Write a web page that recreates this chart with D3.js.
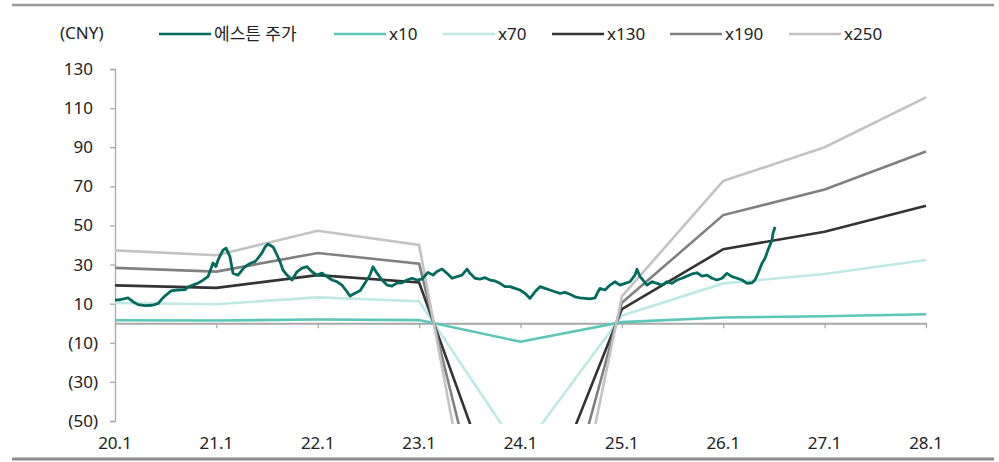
<!DOCTYPE html>
<html>
<head>
<meta charset="utf-8">
<script src="https://cdn.jsdelivr.net/npm/d3@7"></script>
<style>
  html, body { margin: 0; padding: 0; background: #fff; }
  svg { display: block; font-family: "Noto Sans", "Noto Sans CJK KR", sans-serif; }
</style>
</head>
<body>
<svg id="chart" width="999" height="462"></svg>
<script>
// ---- data ----------------------------------------------------------------
const yearTicks = [2020, 2021, 2022, 2023, 2024, 2025, 2026, 2027, 2028];
const yearLabels = ["20.1", "21.1", "22.1", "23.1", "24.1", "25.1", "26.1", "27.1", "28.1"];
const yTicks = [-50, -30, -10, 10, 30, 50, 70, 90, 110, 130];

// 12M forward EPS (CNY) at the start of each year
const epsYears = [2020, 2021, 2022, 2023, 2024, 2025, 2026, 2027, 2028];
const epsValues = [0.149, 0.139, 0.189, 0.160, -0.946, 0.055, 0.291, 0.360, 0.462];

// PER multiples for the band
const multiples = [10, 70, 130, 190, 250];
const bandColors = ["#5cc6b7", "#bfe9e3", "#333333", "#808080", "#c3c3c3"];

// share price (CNY), dates as decimal years
const priceTimes = [
  2020.000, 2020.049, 2020.128, 2020.178, 2020.227, 2020.296, 2020.365, 2020.424, 2020.464, 2020.503,
  2020.552, 2020.621, 2020.691, 2020.720, 2020.769, 2020.819, 2020.868, 2020.917, 2020.967, 2020.996,
  2021.016, 2021.065, 2021.095, 2021.134, 2021.164, 2021.213, 2021.282, 2021.341, 2021.381, 2021.411,
  2021.450, 2021.480, 2021.509, 2021.559, 2021.598, 2021.628, 2021.657, 2021.697, 2021.746, 2021.795,
  2021.845, 2021.894, 2021.943, 2021.993, 2022.042, 2022.091, 2022.141, 2022.190, 2022.239, 2022.289,
  2022.318, 2022.367, 2022.417, 2022.466, 2022.515, 2022.545, 2022.584, 2022.634, 2022.683, 2022.732,
  2022.782, 2022.831, 2022.880, 2022.930, 2022.979, 2023.028, 2023.088, 2023.137, 2023.176, 2023.226,
  2023.275, 2023.324, 2023.374, 2023.423, 2023.472, 2023.502, 2023.551, 2023.600, 2023.650, 2023.699,
  2023.748, 2023.798, 2023.847, 2023.896, 2023.946, 2023.995, 2024.044, 2024.094, 2024.143, 2024.192,
  2024.242, 2024.291, 2024.340, 2024.390, 2024.439, 2024.488, 2024.538, 2024.587, 2024.636, 2024.686,
  2024.735, 2024.765, 2024.784, 2024.834, 2024.883, 2024.932, 2024.982, 2025.031, 2025.080, 2025.129,
  2025.149, 2025.179, 2025.208, 2025.248, 2025.297, 2025.346, 2025.396, 2025.445, 2025.494, 2025.544,
  2025.593, 2025.642, 2025.692, 2025.741, 2025.790, 2025.840, 2025.889, 2025.938, 2025.988, 2026.037,
  2026.086, 2026.136, 2026.185, 2026.234, 2026.284, 2026.313, 2026.343, 2026.382, 2026.412, 2026.441,
  2026.481, 2026.491, 2026.511
];
const priceValues = [
  11.8, 12.0, 13.0, 11.0, 9.5, 9.0, 9.2, 10.0, 12.5, 14.4,
  16.5, 17.0, 17.2, 18.5, 19.5, 20.5, 22.0, 23.8, 30.8, 29.0,
  32.3, 37.4, 38.4, 34.0, 25.6, 24.6, 28.9, 30.8, 31.5, 33.3,
  36.0, 39.0, 40.5, 39.0, 34.9, 31.5, 27.2, 24.6, 22.1, 26.3,
  28.2, 28.9, 26.3, 24.6, 25.6, 23.8, 22.1, 21.2, 19.5, 16.1,
  13.9, 15.3, 16.6, 20.5, 24.6, 28.9, 25.6, 22.1, 19.5, 19.0,
  20.5, 20.7, 22.1, 23.0, 22.1, 22.6, 26.0, 24.6, 26.5, 27.7,
  25.5, 23.0, 23.8, 24.6, 27.7, 25.5, 23.0, 22.6, 23.3, 22.1,
  21.6, 20.4, 18.7, 18.7, 17.8, 17.0, 15.3, 12.7, 16.1, 18.7,
  17.8, 17.0, 16.1, 15.3, 15.8, 14.8, 13.5, 13.0, 12.7, 12.4,
  13.0, 16.1, 17.8, 17.0, 19.5, 21.2, 19.5, 20.4, 21.2, 24.6,
  27.6, 23.8, 22.1, 19.5, 21.2, 20.4, 19.5, 21.2, 20.4, 22.1,
  23.0, 24.1, 25.2, 25.8, 24.1, 24.6, 23.0, 22.1, 23.0, 25.5,
  23.8, 23.0, 22.1, 20.4, 20.7, 22.1, 25.5, 30.6, 33.2, 37.4,
  42.5, 46.0, 49.3
];

const priceName = "에스튼 주가";
const unitLabel = "(CNY)";
const priceColor = "#006b5d";

// ---- layout ----------------------------------------------------------------
const svg = d3.select("#chart");
const axisColor = "#a9a9a9";

const x = d3.scaleLinear().domain([2020, 2028]).range([115, 926]);
const y = d3.scaleLinear().domain([-50, 130]).range([421, 69]);

// frame rules
svg.append("line").attr("x1", 12).attr("x2", 994).attr("y1", 5).attr("y2", 5)
  .attr("stroke", "#999").attr("stroke-width", 2.5);
svg.append("line").attr("x1", 12).attr("x2", 994).attr("y1", 459).attr("y2", 459)
  .attr("stroke", "#8c8c8c").attr("stroke-width", 3);

// y axis
const fmtY = v => v < 0 ? `(${Math.abs(v)})` : `${v}`;
const yAxis = svg.append("g").attr("transform", "translate(115,0)")
  .call(d3.axisLeft(y).tickValues(yTicks).tickSize(5).tickSizeOuter(5).tickFormat(fmtY));
yAxis.selectAll("path, line").attr("stroke", axisColor).attr("stroke-width", 1.3);
yAxis.selectAll("text")
  .attr("x", d => d < 0 ? -17 : -22)
  .attr("font-size", 17).attr("fill", "#222")
  .attr("font-family", "\"Noto Sans\", sans-serif");

// x axis on the zero line
const xAxis = svg.append("g").attr("transform", `translate(0,${y(0)})`)
  .call(d3.axisBottom(x).tickValues(yearTicks).tickSize(5).tickSizeOuter(0).tickFormat(""));
xAxis.selectAll("path, line").attr("stroke", axisColor).attr("stroke-width", 2);
xAxis.selectAll(".tick line").attr("stroke-width", 1.3);

svg.append("g").selectAll("text").data(yearTicks).join("text")
  .attr("x", d => x(d)).attr("y", 449)
  .attr("text-anchor", "middle").attr("font-size", 17).attr("fill", "#222")
  .text((d, i) => yearLabels[i]);

// clip for band lines dropping below the axis range
svg.append("clipPath").attr("id", "plotClip")
  .append("rect").attr("x", 110).attr("y", 40).attr("width", 830).attr("height", 384);

const line = d3.line().x(d => x(d[0])).y(d => y(d[1]));

// PER band lines
const bands = svg.append("g").attr("clip-path", "url(#plotClip)");
multiples.forEach((m, i) => {
  const pts = epsYears.map((yr, j) => [yr, epsValues[j] * m]);
  bands.append("path").datum(pts)
    .attr("d", line).attr("fill", "none")
    .attr("stroke", bandColors[i]).attr("stroke-width", 2.6)
    .attr("stroke-linejoin", "miter");
});

// share price
const pricePts = priceTimes.map((t, i) => [t, priceValues[i]]);
svg.append("path").datum(pricePts)
  .attr("d", line).attr("fill", "none")
  .attr("stroke", priceColor).attr("stroke-width", 2.8)
  .attr("stroke-linejoin", "round");

// legend
svg.append("text").attr("x", 60).attr("y", 39).attr("font-size", 17).attr("fill", "#222")
  .text(unitLabel);

const legendItems = [{ name: priceName, color: priceColor }]
  .concat(multiples.map((m, i) => ({ name: `x${m}`, color: bandColors[i] })));
const legendX = [159, 334, 443, 552, 670, 789];
const lg = svg.append("g");
legendItems.forEach((it, i) => {
  const x0 = legendX[i];
  lg.append("line").attr("x1", x0).attr("x2", x0 + 52).attr("y1", 34).attr("y2", 34)
    .attr("stroke", it.color).attr("stroke-width", 2.6);
  lg.append("text").attr("x", x0 + 55).attr("y", 40).attr("font-size", 17).attr("fill", "#222")
    .attr("font-family", "\"Noto Sans\", \"Noto Sans CJK KR\", sans-serif")
    .text(it.name);
});
</script>
</body>
</html>
